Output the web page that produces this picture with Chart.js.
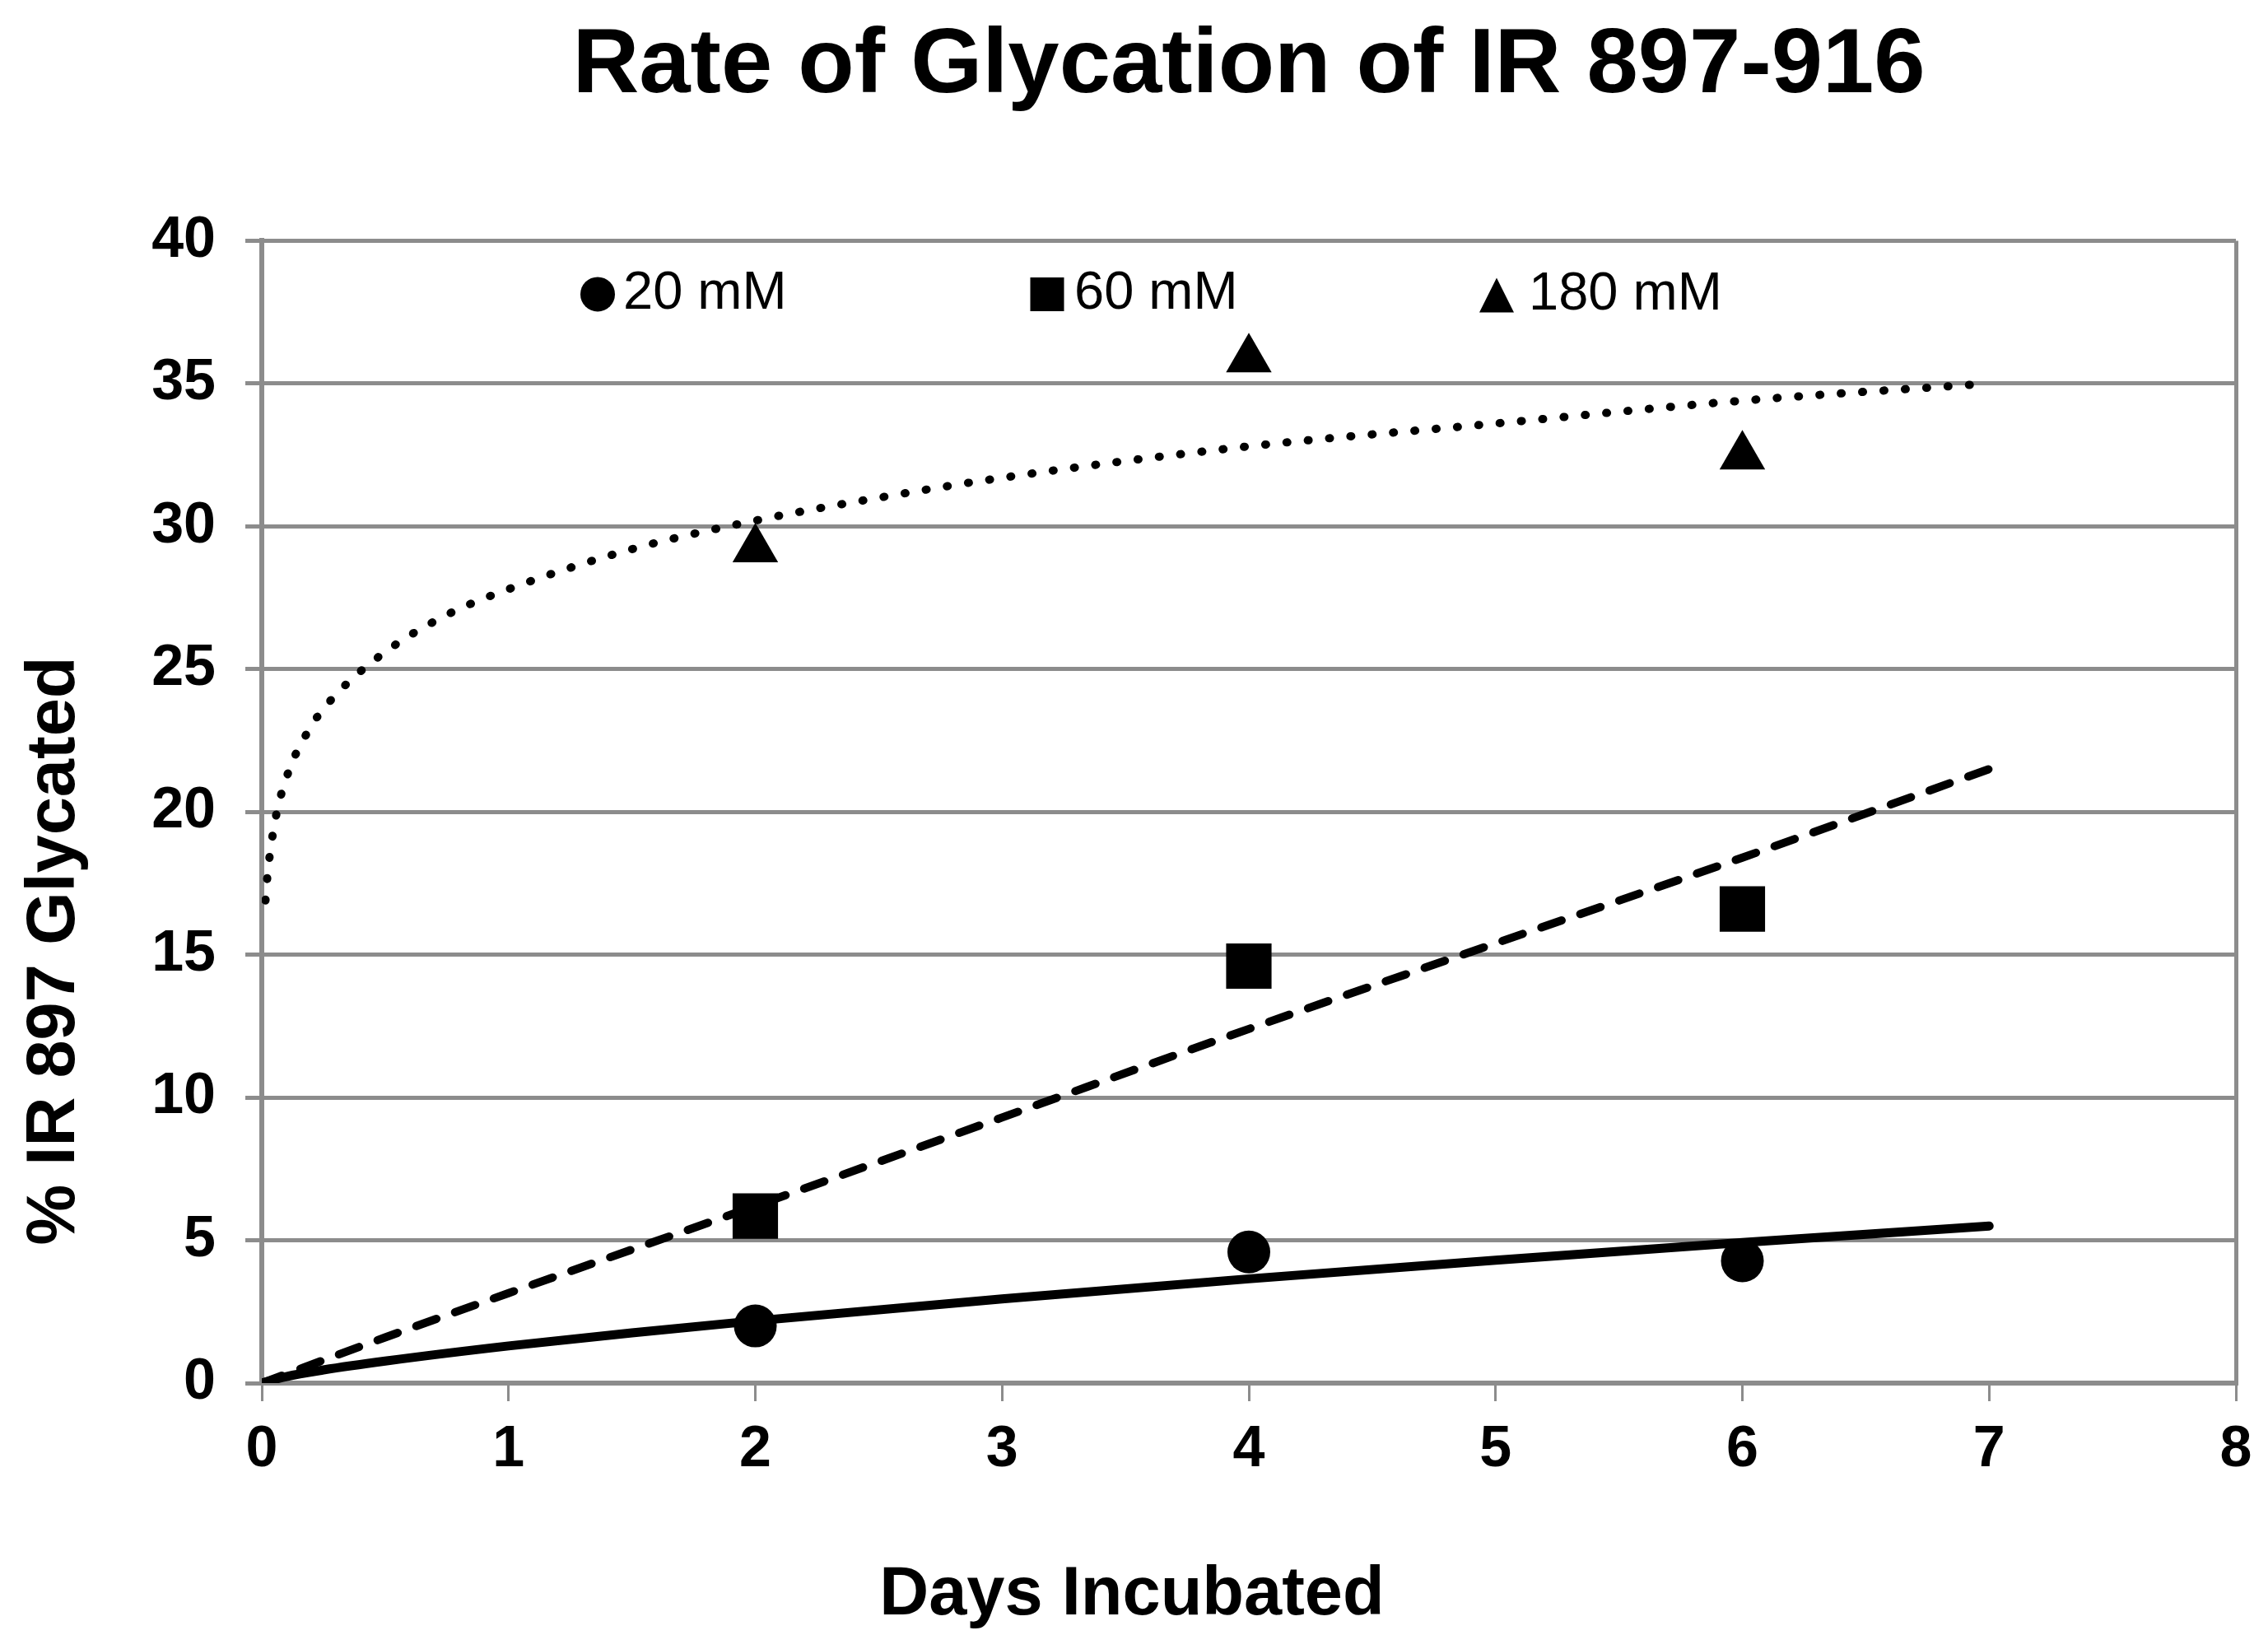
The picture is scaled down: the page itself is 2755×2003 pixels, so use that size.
<!DOCTYPE html>
<html>
<head>
<meta charset="utf-8">
<title>Rate of Glycation of IR 897-916</title>
<script src="https://cdn.jsdelivr.net/npm/chart.js@4.4.1/dist/chart.umd.min.js"></script>
<style>
  html, body { margin: 0; padding: 0; background: #fff; }
  #chart { display: block; }
</style>
</head>
<body>
<canvas id="chart" width="2755" height="2003"></canvas>
<script>
// measured points (days incubated vs % glycated)
const days = [2, 4, 6];
const mM20 = [2.0, 4.59, 4.28];
const mM60 = [5.85, 14.6, 16.6];
const mM180 = [29.2, 35.85, 32.45];

// trend lines
const fit20X = [0, 0.1, 0.25, 0.5, 1, 1.5, 2, 3, 4, 5, 6, 7];
const fit20Y = [0, 0.23, 0.46, 0.77, 1.3, 1.76, 2.18, 2.95, 3.65, 4.3, 4.92, 5.5];
const fit60X = [0, 0.5, 1, 2, 3, 4, 5, 6, 7];
const fit60Y = [0, 1.6, 3.15, 6.2, 9.3, 12.4, 15.4, 18.4, 21.5];
const fit180X = [0.015, 0.02, 0.05, 0.1, 0.2, 0.3, 0.5, 0.75, 1, 1.5, 2, 2.5, 3, 4, 5, 6, 7];
const fit180Y = [16.9, 17.5, 19.5, 21.2, 23.0, 24.1, 25.6, 26.9, 27.8, 29.2, 30.2, 31.0, 31.7, 32.8, 33.6, 34.4, 35.0];

// axis ticks
const xTicks = [0, 1, 2, 3, 4, 5, 6, 7, 8];
const yTicks = [0, 5, 10, 15, 20, 25, 30, 35, 40];

const FONT = '"Liberation Sans", Arial, sans-serif';
const GRID = '#8c8c8c';

function pts(xs, ys) {
    return xs.map((x, i) => ({ x: x, y: ys[i] }));
}

function markers(label, ys, style, radius) {
    return {
        label: label,
        data: pts(days, ys),
        pointStyle: style,
        pointRadius: radius,
        pointHoverRadius: radius,
        backgroundColor: '#000',
        borderColor: '#000',
        borderWidth: 0,
        showLine: false,
        isMarker: true
    };
}

function trend(xs, ys, width, dash, cap) {
    return {
        label: 'trend',
        data: pts(xs, ys),
        showLine: true,
        pointRadius: 0,
        borderColor: '#000',
        borderWidth: width,
        borderDash: dash,
        borderCapStyle: cap,
        cubicInterpolationMode: 'monotone',
        fill: false
    };
}

// legend drawn inside the plot area, as in the original
const insideLegend = {
    id: 'insideLegend',
    afterDraw(chart, args, opts) {
        const { ctx, chartArea } = chart;
        const sets = chart.data.datasets.filter(d => d.isMarker);
        ctx.save();
        ctx.fillStyle = '#000';
        ctx.font = opts.font;
        ctx.textBaseline = 'middle';
        ctx.textAlign = 'left';
        sets.forEach((ds, i) => {
            const it = opts.items[i];
            const cx = chartArea.left + it.dx;
            const cy = chartArea.top + it.dy;
            const r = it.size / 2;
            ctx.beginPath();
            if (ds.pointStyle === 'circle') {
                ctx.arc(cx, cy, r, 0, Math.PI * 2);
            } else if (ds.pointStyle === 'rect') {
                ctx.rect(cx - r, cy - r, it.size, it.size);
            } else {
                ctx.moveTo(cx, cy - r);
                ctx.lineTo(cx + r, cy + r);
                ctx.lineTo(cx - r, cy + r);
                ctx.closePath();
            }
            ctx.fill();
            ctx.fillText(ds.label, cx + it.textGap, cy);
        });
        ctx.restore();
    }
};

// axis titles placed where the original has them
const axisTitles = {
    id: 'axisTitles',
    afterDraw(chart, args, opts) {
        const { ctx } = chart;
        ctx.save();
        ctx.fillStyle = '#000';
        ctx.font = opts.font;
        ctx.textAlign = 'center';
        ctx.textBaseline = 'middle';
        ctx.fillText(opts.x.text, opts.x.cx, opts.x.cy);
        ctx.translate(opts.y.cx, opts.y.cy);
        ctx.rotate(-Math.PI / 2);
        ctx.fillText(opts.y.text, 0, 0);
        ctx.restore();
    }
};

const ctx = document.getElementById('chart').getContext('2d');
const myChart = new Chart(ctx, {
    type: 'scatter',
    data: {
        datasets: [
            markers('20 mM', mM20, 'circle', 26),
            markers('60 mM', mM60, 'rect', 39),
            markers('180 mM', mM180, 'triangle', 32),
            trend(fit20X, fit20Y, 11, [], 'round'),
            trend(fit60X, fit60Y, 10, [26, 24], 'round'),
            trend(fit180X, fit180Y, 10, [1, 25], 'round')
        ]
    },
    options: {
        responsive: false,
        animation: false,
        devicePixelRatio: 1,
        layout: { padding: { left: 0, right: 32, top: 0, bottom: 0 } },
        plugins: {
            legend: { display: false },
            tooltip: { enabled: false },
            title: {
                display: true,
                text: 'Rate of Glycation of IR 897-916',
                color: '#000',
                fullSize: false,
                font: { family: FONT, size: 112, weight: 'bold', lineHeight: 1.2 },
                padding: { top: 14, bottom: 144 }
            },
            insideLegend: {
                font: '65px ' + FONT,
                items: [
                    { dx: 408, dy: 65, size: 42, textGap: 31 },
                    { dx: 954, dy: 65, size: 41, textGap: 33 },
                    { dx: 1500, dy: 66, size: 42, textGap: 39 }
                ]
            },
            axisTitles: {
                font: 'bold 83px ' + FONT,
                x: { text: 'Days Incubated', cx: 1375, cy: 1938 },
                y: { text: '% IR 897 Glycated', cx: 67, cy: 1155 }
            }
        },
        scales: {
            x: {
                type: 'linear',
                min: 0,
                max: 8,
                afterFit(scale) {
                    scale.height = 323;
                    scale.paddingLeft = 0;
                    scale.paddingRight = 0;
                },
                afterBuildTicks(scale) { scale.ticks = xTicks.map(v => ({ value: v })); },
                grid: {
                    color: c => (c.tick && c.tick.value === 8 ? GRID : 'rgba(0,0,0,0)'),
                    lineWidth: 5,
                    tickColor: GRID,
                    tickLength: 22,
                    tickWidth: 3
                },
                border: { color: GRID, width: 6 },
                ticks: {
                    color: '#000',
                    padding: 18,
                    font: { family: FONT, size: 70, weight: 'bold' }
                }
            },
            y: {
                type: 'linear',
                min: 0,
                max: 40,
                afterFit(scale) { scale.width = 318; },
                afterBuildTicks(scale) { scale.ticks = yTicks.map(v => ({ value: v })); },
                grid: {
                    color: GRID,
                    lineWidth: 5,
                    tickColor: GRID,
                    tickLength: 20,
                    tickWidth: 5
                },
                border: { color: GRID, width: 6 },
                ticks: {
                    color: '#000',
                    padding: 36,
                    font: { family: FONT, size: 70, weight: 'bold' }
                }
            }
        }
    },
    plugins: [insideLegend, axisTitles]
});
</script>
</body>
</html>
